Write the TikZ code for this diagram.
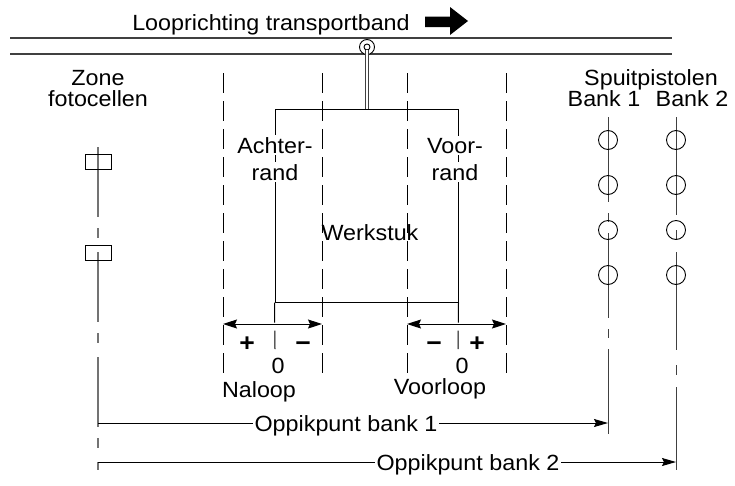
\documentclass[tikz,border=0pt]{standalone}
\usepackage{fontspec}
\setmainfont{Liberation Sans}[FakeStretch=1.06]
\usetikzlibrary{arrows.meta}
\begin{document}
\begin{tikzpicture}[x=1pt,y=-1pt,line width=0.9pt,
  txt/.style={anchor=base,inner sep=0pt,font=\fontsize{22}{26}\selectfont},
  sgn/.style={anchor=base,inner sep=0pt,font=\fontsize{25}{28}\selectfont\bfseries},
  wtxt/.style={txt,fill=white,inner sep=2pt},
  rail/.style={draw=black!75,line width=1.2pt},
  dashln/.style={draw=black,line width=1pt,dash pattern=on 20pt off 8pt},
  zoneln/.style={draw=black!55,line width=1.2pt,dash pattern=on 70pt off 11pt on 10pt off 14pt},
  bankaln/.style={draw=black!75,line width=1pt,dash pattern=on 85pt off 11pt on 9pt off 11pt},
  bankbln/.style={draw=black!75,line width=1pt,dash pattern=on 98pt off 15pt on 10pt off 12pt},
  gun/.style={circle,draw,line width=0.9pt,minimum size=19pt,inner sep=0pt},
  cell/.style={draw,line width=0.9pt,minimum width=26pt,minimum height=15pt,inner sep=0pt},
  dimarr/.style={line width=1pt,{Stealth[length=14pt,width=9pt,inset=2pt]}-{Stealth[length=14pt,width=9pt,inset=2pt]}},
  onearr/.style={line width=1pt,-{Stealth[length=14pt,width=8pt,inset=2pt]}}]
\useasboundingbox (0,0) rectangle (735,485);

% title and block arrow
\node[txt] (title) at (271,30) {Looprichting transportband};
\fill (425,16.5) -- (450,16.5) -- (450,7) -- (468,21) -- (450,35) -- (450,27) -- (425,27) -- cycle;

% rails
\coordinate (rt1) at (10,38); \coordinate (rt2) at (672,38);
\coordinate (rb1) at (10,54); \coordinate (rb2) at (672,54);
\draw[rail] (rt1) -- (rt2);
\draw[rail] (rb1) -- (rb2);

% workpiece
\node[draw,line width=1pt,minimum width=183pt,minimum height=193pt,inner sep=0pt] (box) at (366.5,205.5) {};
\node[circle,draw,line width=0.9pt,minimum size=15pt,inner sep=0pt,fill=white] (hook) at (367,47) {};
\node[circle,draw,line width=0.9pt,minimum size=6pt,inner sep=0pt] (hookin) at (367,47) {};
\draw[draw=black!75,line width=0.9pt,double=white,double distance=1.6pt] (hookin.south) -- (hookin.south |- box.north);

% dashed zone lines
\foreach \n/\x in {d1/223,d2/322,d3/407,d4/506}{
  \coordinate (\n t) at (\x,73); \coordinate (\n b) at (\x,378);
  \draw[dashln] (\n t) -- (\n b);
}
\coordinate (el) at (275,349); \coordinate (er) at (458,349);
\draw[dashln] (box.south west) -- (el);
\draw[dashln] (box.south east) -- (er);

% dimension arrows Naloop/Voorloop
\coordinate (a1) at (223,324); \coordinate (a2) at (322,324);
\coordinate (a3) at (407,324); \coordinate (a4) at (506,324);
\draw[dimarr] (a1) -- (a2);
\draw[dimarr] (a3) -- (a4);

% photocell zone
\coordinate (zt) at (98,147); \coordinate (zb) at (98,470);
\draw[zoneln] (zt) -- (zb);
\node[cell] (c1) at (98,161.5) {};
\node[cell] (c2) at (98,252.5) {};

% spray guns
\coordinate (b1t) at (608,117); \coordinate (b1b) at (608,440);
\coordinate (b2t) at (676,117); \coordinate (b2b) at (676,470);
\draw[bankaln] (b1t) -- (b1b);
\draw[bankbln] (b2t) -- (b2b);
\foreach \i/\y in {1/140,2/185,3/230,4/275}{
  \node[gun] (g1\i) at (608,\y) {};
  \node[gun] (g2\i) at (676,\y) {};
}

% labels
\node[txt] (zone) at (98,85) {Zone};
\node[txt] (foto) at (98,106) {fotocellen};
\node[txt] (spuit) at (651,85) {Spuitpistolen};
\node[txt] (bank1) at (604,106) {Bank 1};
\node[txt] (bank2) at (692,106) {Bank 2};
\node[wtxt] (achter) at (275,153) {Achter-};
\node[wtxt] (arand) at (275,180) {rand};
\node[wtxt] (voor) at (455,153) {Voor-};
\node[wtxt] (vrand) at (455,180) {rand};
\node[txt] (werk) at (370,240) {Werkstuk};
\node[sgn] (p1) at (247,351) {+};
\node[sgn] (m1) at (303,351) {−};
\node[sgn] (m2) at (434,351) {−};
\node[sgn] (p2) at (477,351) {+};
\node[txt] (z1) at (278,373) {0};
\node[txt] (z2) at (462,373) {0};
\node[txt] (nal) at (259,397) {Naloop};
\node[txt] (vrl) at (440,394) {Voorloop};

% oppikpunt dimensions
\coordinate (o1s) at (98,423); \coordinate (o1e) at (608,423);
\coordinate (o2s) at (98,462); \coordinate (o2e) at (676,462);
\draw[onearr] (o1s) -- (o1e);
\draw[onearr] (o2s) -- (o2e);
\node[wtxt] (op1) at (346,431) {Oppikpunt bank 1};
\node[wtxt] (op2) at (468,470) {Oppikpunt bank 2};
\end{tikzpicture}
\end{document}
